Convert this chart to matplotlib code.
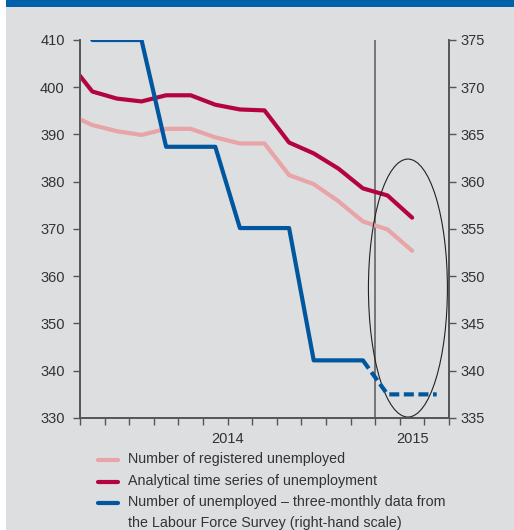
import matplotlib
matplotlib.use("Agg")
import matplotlib.pyplot as plt
from matplotlib.patches import Ellipse, Rectangle
from matplotlib.lines import Line2D

plt.rcParams['font.family'] = ['Liberation Sans', 'DejaVu Sans']

# months: Dec 2013 .. Feb 2015 (index -1 .. 13), plotted at month centres
months_idx = list(range(-1, 14))
registered = [394.4, 392.0, 390.7, 389.9, 391.2, 391.2, 389.4, 388.1, 388.1,
              381.4, 379.5, 375.9, 371.6, 369.9, 365.4]
analytical = [405.7, 399.1, 397.6, 397.0, 398.3, 398.3, 396.3, 395.3, 395.1,
              388.3, 386.0, 382.8, 378.6, 377.1, 372.4]
# LFS quarterly data (right-hand scale), Jan 2014 .. Dec 2014 solid
lfs_idx = list(range(0, 12))
lfs = [375.0, 375.0, 375.0, 363.7, 363.7, 363.7, 355.1, 355.1, 355.1,
       341.1, 341.1, 341.1]
# dashed part: Dec 2014 .. Mar 2015
lfs_dash_idx = [11, 12, 13, 14]
lfs_dash = [341.1, 337.5, 337.5, 337.5]

left_ticks = [330, 340, 350, 360, 370, 380, 390, 400, 410]
right_ticks = [335, 340, 345, 350, 355, 360, 365, 370, 375]
year_labels = ['2014', '2015']
year_pos = [6, 13.5]

legend_labels = ['Number of registered unemployed',
                 'Analytical time series of unemployment',
                 'Number of unemployed \u2013 three-monthly data from\nthe Labour Force Survey (right-hand scale)']

c_pink = '#e8a4a6'
c_red = '#b4043f'
c_blue = '#00569f'
c_bg = '#dcdee0'
c_txt = '#333333'
c_ax = '#555555'

fig = plt.figure(figsize=(5.14, 5.30), dpi=100)
fig.patch.set_facecolor('white')
fig.patches.append(Rectangle((6/514, 0), 1, 1, transform=fig.transFigure,
                             facecolor=c_bg, edgecolor='none', zorder=-10))
fig.patches.append(Rectangle((6/514, 1-7/530), 1, 7/530, transform=fig.transFigure,
                             facecolor='#0060a9', edgecolor='none', zorder=-9))

ax = fig.add_axes([80/514, 1-418/530, 369/514, 378/530])
ax.set_facecolor('none')
ax2 = ax.twinx()

x = [m + 0.5 for m in months_idx]
ax.plot(x, registered, color=c_pink, lw=3, solid_capstyle='round', zorder=3)
ax.plot(x, analytical, color=c_red, lw=3, solid_capstyle='round', zorder=4)

ax2.plot([m + 0.5 for m in lfs_idx], lfs, color=c_blue, lw=3,
         solid_capstyle='round', zorder=5)
ax2.plot([m + 0.5 for m in lfs_dash_idx], lfs_dash, color=c_blue, lw=3,
         dashes=(2.4, 1.1), zorder=5)

ax.set_xlim(0, 15)
ax.set_ylim(330, 410)
ax2.set_ylim(335, 375)

ax.axvline(12, color='#6e6e6e', lw=1.3, zorder=2)

ell = Ellipse((13.33, 357.5), width=3.21, height=54.6, fill=False,
              edgecolor='#222222', lw=0.8, zorder=6)
ax.add_patch(ell)

ax.xaxis.remove_overlapping_locs = False
ax.set_xticks(range(0, 16))
ax.set_xticklabels([])
ax.set_xticks(year_pos, minor=True)
ax.set_xticklabels(year_labels, minor=True)
ax.tick_params(axis='x', which='minor', length=0, pad=10, labelsize=10.5, labelcolor=c_txt)
ax.tick_params(axis='x', which='major', length=5, width=1, color=c_ax, direction='out')

ax.set_yticks(left_ticks)
ax.tick_params(axis='y', length=5, width=1, color=c_ax, labelsize=10.5,
               labelcolor=c_txt, pad=6)
ax2.set_yticks(right_ticks)
ax2.tick_params(axis='y', length=5, width=1, color=c_ax, labelsize=10.5,
                labelcolor=c_txt, pad=3)

for a in (ax, ax2):
    a.spines['top'].set_visible(False)
    for s in ('left', 'right', 'bottom'):
        a.spines[s].set_color(c_ax)
        a.spines[s].set_linewidth(1.2)

# legend
colors = [c_pink, c_red, c_blue]
rows_y = [460, 481.7, 503.3]
for lab, col, yy in zip(legend_labels, colors, rows_y):
    fy = 1 - yy/530
    fig.lines.append(Line2D([98/514, 118/514], [fy, fy], transform=fig.transFigure,
                            color=col, lw=3, solid_capstyle='round'))
    fig.text(128/514, fy + 8/530, lab, fontsize=10.3, color=c_txt, va='top',
             linespacing=1.6, transform=fig.transFigure)

fig.savefig('out.png', dpi=100, facecolor=fig.get_facecolor())
